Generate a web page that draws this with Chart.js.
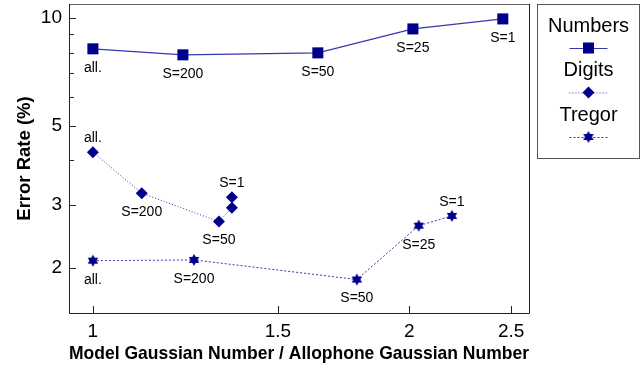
<!DOCTYPE html>
<html>
<head>
<meta charset="utf-8">
<script src="https://cdn.jsdelivr.net/npm/chart.js@4.4.1/dist/chart.umd.min.js"></script>
<style>
  html, body { margin: 0; padding: 0; background: #fff; }
  #wrap { width: 641px; height: 368px; }
</style>
</head>
<body>
<div id="wrap"><canvas id="chart"></canvas></div>
<script>
// values (log-log axes)
var seriesNames = ["Numbers", "Digits", "Tregor"];
var numbersX = [1.0, 1.218, 1.637, 2.016, 2.455];
var numbersY = [8.2, 7.89, 7.99, 9.32, 9.94];
var numbersText = ["all.", "S=200", "S=50", "S=25", "S=1"];
var digitsX = [1.0, 1.113, 1.318, 1.356, 1.356];
var digitsY = [4.22, 3.24, 2.70, 2.95, 3.16];
var digitsText = ["all.", "S=200", "S=50", "", "S=1"];
var tregorX = [1.0, 1.248, 1.783, 2.042, 2.196];
var tregorY = [2.10, 2.11, 1.86, 2.63, 2.80];
var tregorText = ["all.", "S=200", "S=50", "S=25", "S=1"];
var xTicks = [1, 1.5, 2, 2.5];
var yTicks = [2, 3, 4, 5, 6, 7, 8, 9, 10];
var yTickLabels = [2, 3, 5, 10];

var markColor = "#00008b";
var lineColor = "#3636b0";
var font = "'Liberation Sans', Arial, sans-serif";

function pts(xs, ys) {
  return xs.map(function (x, i) { return { x: x, y: ys[i] }; });
}

// six pointed star marker
function starImage(r, color) {
  var c = document.createElement("canvas");
  var s = Math.ceil(r * 2 + 2);
  c.width = s; c.height = s;
  var g = c.getContext("2d");
  g.fillStyle = color;
  for (var k = 0; k < 2; k++) {
    g.beginPath();
    for (var i = 0; i < 3; i++) {
      var a = -Math.PI / 2 + k * Math.PI + i * 2 * Math.PI / 3;
      var px = s / 2 + r * Math.cos(a), py = s / 2 + r * Math.sin(a);
      if (i) g.lineTo(px, py); else g.moveTo(px, py);
    }
    g.closePath();
    g.fill();
  }
  return c;
}
var star = starImage(6, markColor);

var ctx = document.getElementById("chart");

var myChart = new Chart(ctx, {
  type: "scatter",
  data: {
    datasets: [
      {
        label: seriesNames[0],
        data: pts(numbersX, numbersY),
        pointText: numbersText,
        textAbove: [],
        showLine: true,
        borderColor: lineColor,
        borderWidth: 1.2,
        pointStyle: "rect",
        pointRadius: 7.8,
        pointBackgroundColor: markColor,
        pointBorderColor: markColor,
        pointBorderWidth: 0,
      },
      {
        label: seriesNames[1],
        data: pts(digitsX, digitsY),
        pointText: digitsText,
        textAbove: [0, 4],
        showLine: true,
        borderColor: lineColor,
        borderWidth: 1,
        borderDash: [1, 2],
        pointStyle: "rectRot",
        pointRadius: 6,
        pointBackgroundColor: markColor,
        pointBorderColor: markColor,
        pointBorderWidth: 0,
      },
      {
        label: seriesNames[2],
        data: pts(tregorX, tregorY),
        pointText: tregorText,
        textAbove: [4],
        showLine: true,
        borderColor: lineColor,
        borderWidth: 1,
        borderDash: [2, 2],
        pointStyle: star,
        pointRadius: 6,
        pointBackgroundColor: markColor,
        pointBorderColor: markColor,
      },
    ],
  },
  options: {
    responsive: true,
    maintainAspectRatio: false,
    animation: false,
    events: [],
    layout: { autoPadding: false, padding: { top: 4, right: 112, left: 0, bottom: 0 } },
    plugins: {
      legend: { display: false },
      tooltip: { enabled: false },
    },
    scales: {
      x: {
        type: "logarithmic",
        min: 0.949,
        max: 2.6,
        grid: { display: false, drawTicks: false },
        border: { display: false },
        afterBuildTicks: function (scale) {
          scale.ticks = xTicks.map(function (v) { return { value: v }; });
        },
        afterFit: function (scale) {
          scale.height = 55;
          scale.paddingLeft = 0;
          scale.paddingRight = 0;
        },
        ticks: {
          autoSkip: false,
          maxRotation: 0,
          padding: 7,
          color: "#000",
          font: { family: font, size: 19 },
          callback: function (value) { return String(value); },
        },
        title: {
          display: true,
          text: "Model Gaussian Number / Allophone Gaussian Number",
          color: "#000",
          font: { family: font, size: 18.5, weight: "bold" },
          padding: { top: 0, bottom: 3 },
        },
      },
      y: {
        type: "logarithmic",
        min: 1.5,
        max: 10.94,
        grid: { display: false, drawTicks: false },
        border: { display: false },
        afterBuildTicks: function (scale) {
          scale.ticks = yTicks.map(function (v) { return { value: v }; });
        },
        afterFit: function (scale) {
          scale.width = 69;
          scale.paddingTop = 0;
          scale.paddingBottom = 0;
        },
        ticks: {
          autoSkip: false,
          padding: 7,
          color: "#000",
          font: { family: font, size: 19 },
          callback: function (value) {
            return yTickLabels.indexOf(value) >= 0 ? String(value) : "";
          },
        },
        title: {
          display: true,
          text: "Error Rate (%)",
          color: "#000",
          font: { family: font, size: 18.5, weight: "bold" },
          padding: { top: 14, bottom: 0 },
        },
      },
    },
  },
  plugins: [
    {
      id: "frameAndTicks",
      beforeDatasetsDraw: function (chart) {
        var c = chart.ctx, a = chart.chartArea;
        var xs = chart.scales.x, ys = chart.scales.y;
        c.save();
        c.lineWidth = 1;
        c.strokeStyle = "#666";
        c.beginPath();
        c.moveTo(a.left, a.top + 0.5);
        c.lineTo(a.right, a.top + 0.5);
        c.stroke();
        c.strokeStyle = "#222";
        c.beginPath();
        c.moveTo(a.left + 0.5, a.top);
        c.lineTo(a.left + 0.5, a.bottom + 0.5);
        c.lineTo(a.right + 0.5, a.bottom + 0.5);
        c.lineTo(a.right + 0.5, a.top);
        c.stroke();
        // inward tick marks
        xs.ticks.forEach(function (t) {
          var px = Math.round(xs.getPixelForValue(t.value)) + 0.5;
          c.beginPath();
          c.moveTo(px, a.bottom);
          c.lineTo(px, a.bottom - 7);
          c.stroke();
        });
        ys.ticks.forEach(function (t) {
          var py = Math.round(ys.getPixelForValue(t.value)) + 0.5;
          var len = yTickLabels.indexOf(t.value) >= 0 ? 7 : 5;
          c.beginPath();
          c.moveTo(a.left, py);
          c.lineTo(a.left + len, py);
          c.stroke();
        });
        c.restore();
      },
    },
    {
      id: "pointText",
      afterDatasetsDraw: function (chart) {
        var c = chart.ctx;
        c.save();
        c.fillStyle = "#000";
        c.font = "14px " + font;
        c.textAlign = "center";
        c.textBaseline = "middle";
        chart.data.datasets.forEach(function (ds, i) {
          chart.getDatasetMeta(i).data.forEach(function (el, j) {
            var txt = ds.pointText[j];
            if (!txt) return;
            var dy = ds.textAbove.indexOf(j) >= 0 ? -14 : 19;
            c.fillText(txt, el.x, el.y + dy);
          });
        });
        c.restore();
      },
    },
    {
      id: "boxLegend",
      afterDraw: function (chart) {
        var c = chart.ctx;
        var left = 537, top = 4, w = 103, h = 154;
        var cx = left + w / 2;
        c.save();
        c.strokeStyle = "#555";
        c.lineWidth = 1;
        c.strokeRect(left + 0.5, top + 0.5, w - 1, h);
        c.textAlign = "center";
        c.textBaseline = "middle";
        c.font = "20px " + font;
        chart.data.datasets.forEach(function (ds, i) {
          var ty = 26 + i * 44.5;
          var ly = ty + 22;
          c.fillStyle = "#000";
          c.fillText(ds.label, cx, ty);
          c.strokeStyle = ds.borderColor;
          c.lineWidth = ds.borderWidth;
          c.setLineDash(ds.borderDash || []);
          c.beginPath();
          c.moveTo(cx - 19, ly + 0.5);
          c.lineTo(cx + 19, ly + 0.5);
          c.stroke();
          c.setLineDash([]);
          c.fillStyle = markColor;
          c.strokeStyle = markColor;
          Chart.helpers.drawPoint(c, {
            pointStyle: ds.pointStyle,
            radius: ds.pointRadius,
            rotation: 0,
            borderWidth: 0,
          }, cx, ly);
        });
        c.restore();
      },
    },
  ],
});
</script>
</body>
</html>
